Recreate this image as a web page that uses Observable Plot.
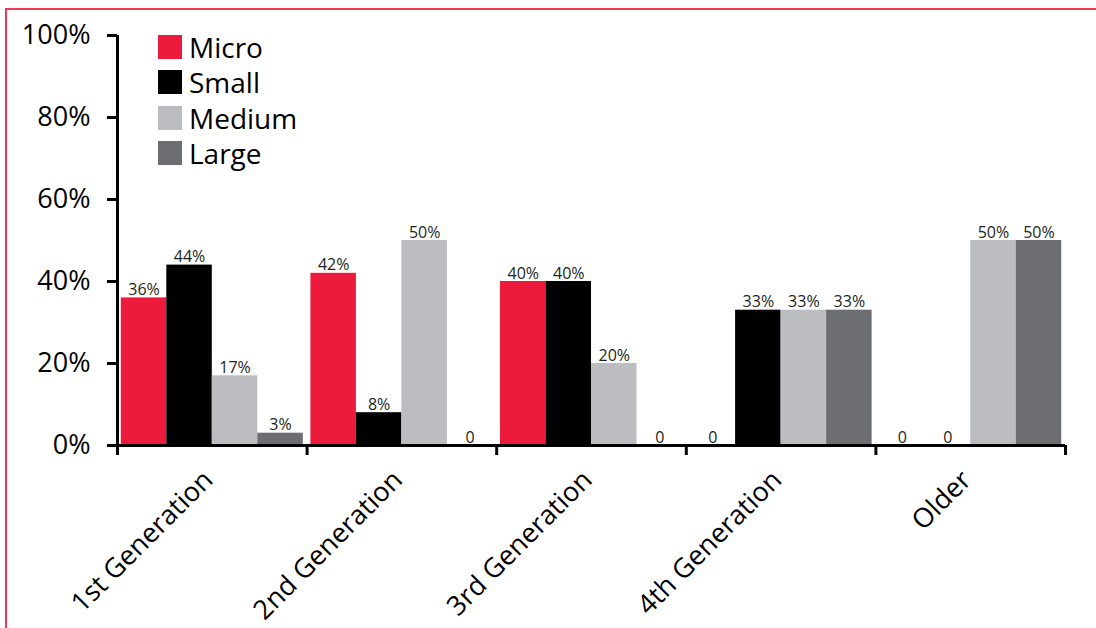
<!DOCTYPE html>
<html>
<head>
<meta charset="utf-8">
<script src="https://cdn.jsdelivr.net/npm/d3@7"></script>
<script src="https://cdn.jsdelivr.net/npm/@observablehq/plot@0.6"></script>
<style>
  html, body { margin: 0; padding: 0; background: #fff; }
  body { width: 1096px; height: 628px; overflow: hidden; position: relative; font-family: "Open Sans", sans-serif; }
  #frame { position: absolute; left: 5px; top: 8px; width: 1200px; height: 800px; border: 2px solid #ec3a55; box-sizing: border-box; pointer-events: none; }
  #chart { position: absolute; left: 0; top: 0; }
  #legend { position: absolute; left: 158px; top: 29px; }
  .item { display: flex; align-items: center; height: 35.5px; }
  .sw { width: 24px; height: 24px; margin-right: 7px; }
  .lab { font-size: 28px; line-height: 24px; color: #000; }
</style>
</head>
<body>
<div id="chart"></div>
<div id="legend"></div>
<div id="frame"></div>
<script>
const categories = ["1st Generation", "2nd Generation", "3rd Generation", "4th Generation", "Older"];
const sizes = ["Micro", "Small", "Medium", "Large"];
const colors = ["#ed1b3b", "#000000", "#bcbdc0", "#6d6e71"];
const micro  = [36, 42, 40, 0, 0];
const small  = [44, 8, 40, 33, 0];
const medium = [17, 50, 20, 33, 50];
const large  = [3, 0, 0, 33, 50];
const yTicks = [0, 20, 40, 60, 80, 100];
const groupEdges = [0, 1, 2, 3, 4, 5];

const series = [micro, small, medium, large];
const barW = 0.24;
const rows = [];
categories.forEach((c, gi) => {
  series.forEach((vals, si) => {
    const x1 = gi + (1 - barW * sizes.length) / 2 + si * barW;
    rows.push({cat: c, gi, si, size: sizes[si], value: vals[gi], x1, x2: x1 + barW, xm: x1 + barW / 2});
  });
});

const chart = Plot.plot({
  width: 1096,
  height: 628,
  marginLeft: 117,
  marginRight: 31,
  marginTop: 35,
  marginBottom: 183,
  style: {fontFamily: "'Open Sans', sans-serif", color: "#000", background: "transparent", overflow: "visible"},
  x: {type: "linear", domain: [0, categories.length], axis: null},
  y: {domain: [0, 100], axis: null},
  marks: [
    Plot.rectY(rows, {x1: "x1", x2: "x2", y1: 0, y2: "value", fill: d => colors[d.si]}),
    Plot.text(rows, {
      x: "xm", y: "value",
      text: d => d.value === 0 ? "0" : d.value + "%",
      lineAnchor: "bottom", dy: -3, fontSize: 16, fill: "#231f20"
    }),
    Plot.axisY({ticks: yTicks, tickSize: 10, tickPadding: 17, strokeWidth: 3, fontSize: 27, label: null, tickFormat: d => d + "%"}),
    Plot.axisX({ticks: groupEdges, tickSize: 10, strokeWidth: 3, label: null, tickFormat: () => ""}),
    Plot.ruleX([0], {strokeWidth: 3}),
    Plot.ruleY([0], {strokeWidth: 3}),
    Plot.text(categories, {
      x: (d, i) => i + 0.5, y: 0, text: d => d,
      rotate: -45, textAnchor: "end", fontSize: 27, dy: 30, dx: -4, fill: "#000"
    })
  ]
});
document.getElementById("chart").appendChild(chart);

const legend = document.getElementById("legend");
sizes.forEach((s, i) => {
  const item = document.createElement("div");
  item.className = "item";
  item.innerHTML = `<div class="sw" style="background:${colors[i]}"></div><div class="lab">${s}</div>`;
  legend.appendChild(item);
});
</script>
</body>
</html>
